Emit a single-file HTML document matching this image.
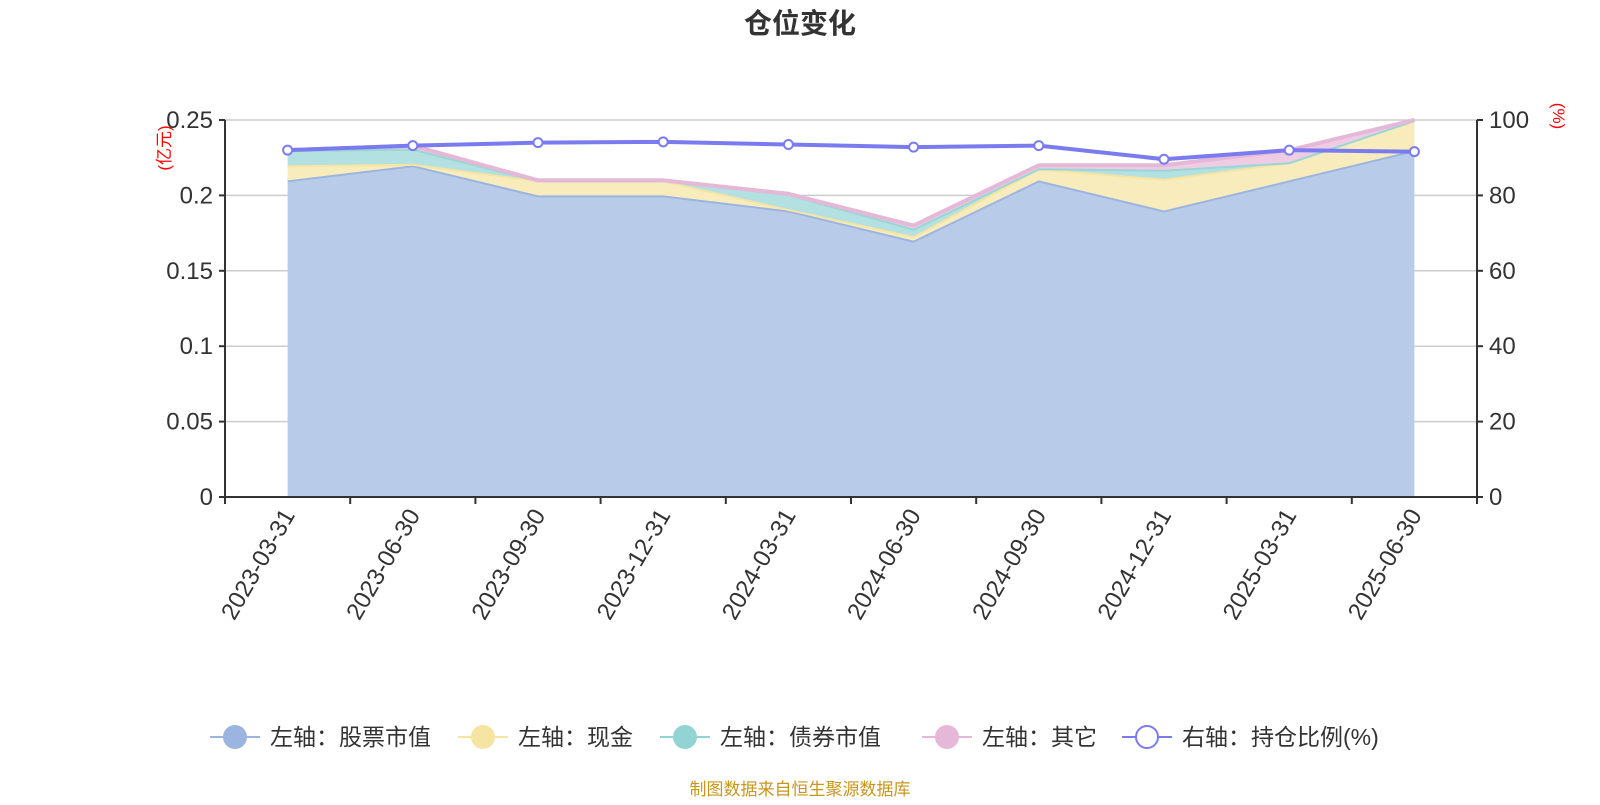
<!DOCTYPE html>
<html><head><meta charset="utf-8">
<style>
body{margin:0;background:#fff;font-family:"Liberation Sans","Noto Sans CJK SC",sans-serif;}
svg text{font-family:"Liberation Sans","Noto Sans CJK SC",sans-serif;}
</style></head>
<body>
<svg id="chart" width="1600" height="800" xmlns="http://www.w3.org/2000/svg">
<text x="800" y="33" text-anchor="middle" font-size="28" font-weight="bold" fill="#333">仓位变化</text>
<g id="grid"></g><g id="areas"></g><g id="axes"></g>
<text transform="translate(170,148) rotate(-90)" text-anchor="middle" font-size="17" fill="red">(亿元)</text>
<text transform="translate(1553,116) rotate(90)" text-anchor="middle" font-size="17" fill="red">(%)</text>
<g id="legend"></g>
<text x="800" y="795" text-anchor="middle" font-size="17" fill="#c8961e">制图数据来自恒生聚源数据库</text>
</svg>
<script>
const categories=["2023-03-31","2023-06-30","2023-09-30","2023-12-31","2024-03-31","2024-06-30","2024-09-30","2024-12-31","2025-03-31","2025-06-30"];
const stockValues=[0.21,0.22,0.20,0.20,0.19,0.17,0.21,0.19,0.21,0.23];
const cashValues=[0.01,0.001,0.01,0.01,0.001,0.003,0.008,0.021,0.012,0.02];
const bondValues=[0.01,0.01,0,0,0.01,0.005,0,0.006,0,0];
const otherValues=[0,0.002,0,0,0,0.002,0.002,0.003,0.008,0];
const ratioValues=[92,93.2,94,94.2,93.5,92.8,93.2,89.6,92,91.6];
const leftTicks=[0,0.05,0.1,0.15,0.2,0.25];
const leftTickLabels=["0","0.05","0.1","0.15","0.2","0.25"];
const rightTicks=[0,20,40,60,80,100];
const NS="http://www.w3.org/2000/svg";
const L=225,R=1477,T=120,B=497;
const bw=(R-L)/categories.length;
const x=i=>L+bw*(i+0.5);
const yL=v=>B-(v/0.25)*(B-T);
const yR=v=>B-(v/100)*(B-T);
function mk(p,tag,a){const e=document.createElementNS(NS,tag);for(const k in a)e.setAttribute(k,a[k]);p.appendChild(e);return e;}
const grid=document.getElementById('grid'),areas=document.getElementById('areas'),axes=document.getElementById('axes'),legend=document.getElementById('legend');
leftTicks.forEach((t,i)=>{
 if(t>0){const g=mk(grid,'line',{x1:L,x2:R,y1:yL(t),y2:yL(t),stroke:'#ccc','stroke-width':1.5});
 
 }
 const tk=mk(axes,'text',{x:L-12,y:yL(t)+8,'text-anchor':'end','font-size':24,fill:'#333'});tk.textContent=leftTickLabels[i];
 
 
 mk(axes,'line',{x1:L-6,x2:L,y1:yL(t),y2:yL(t),stroke:'#333','stroke-width':2});
});
rightTicks.forEach(t=>{
 const tk=mk(axes,'text',{x:R+12,y:yR(t)+8,'font-size':24,fill:'#333'});tk.textContent=t;
 
 
 mk(axes,'line',{x1:R,x2:R+6,y1:yR(t),y2:yR(t),stroke:'#333','stroke-width':2});
});
mk(axes,'line',{x1:L,x2:L,y1:T,y2:B,stroke:'#333','stroke-width':2});
mk(axes,'line',{x1:R,x2:R,y1:T,y2:B,stroke:'#333','stroke-width':2});
mk(axes,'line',{x1:L,x2:R,y1:B,y2:B,stroke:'#333','stroke-width':2});
for(let i=0;i<=categories.length;i++)mk(axes,'line',{x1:L+bw*i,x2:L+bw*i,y1:B,y2:B+7,stroke:'#333','stroke-width':2});
categories.forEach((c,i)=>{
 const t=mk(axes,'text',{transform:`translate(${x(i)+8},${B+18}) rotate(-60)`,'text-anchor':'end','font-size':24,fill:'#333'});t.textContent=c;
 
 
});
const series=[
 {name:'stock',vals:stockValues,fill:'#b8cce9',line:'#9bb5e0'},
 {name:'cash',vals:cashValues,fill:'#f8ecbd',line:'#f6e4a2'},
 {name:'bond',vals:bondValues,fill:'#b3e0e0',line:'#9ad6d6'},
 {name:'other',vals:otherValues,fill:'#eecde4',line:'#e6b8d8'}];
let base=categories.map(()=>0);
series.forEach(s=>{
 const top=base.map((b,i)=>b+s.vals[i]);
 const up=top.map((v,i)=>`${x(i)},${yL(v)}`);
 const dn=base.map((v,i)=>`${x(i)},${yL(v)}`).reverse();
 const a=mk(areas,'polygon',{points:up.concat(dn).join(' '),fill:s.fill});
 
 
 const l=mk(areas,'polyline',{points:up.join(' '),fill:'none',stroke:s.line,'stroke-width':4});
 
 
 base=top;
});
const rl=mk(areas,'polyline',{points:ratioValues.map((v,i)=>`${x(i)},${yR(v)}`).join(' '),fill:'none',stroke:'#7b7bf0','stroke-width':4});


ratioValues.forEach((v,i)=>{
 const c=mk(areas,'circle',{cx:x(i),cy:yR(v),r:4.5,fill:'#fff',stroke:'#7b7bf0','stroke-width':2});
 
 
});
const leg=[["左轴：股票市值","#9bb5e0",true,210],["左轴：现金","#f6e4a2",true,458],["左轴：债券市值","#92d4d4",true,660],["左轴：其它","#e6b8d8",true,922],["右轴：持仓比例(%)","#7b7bf0",false,1122]];
leg.forEach(([t,c,f,lx])=>{
 const g=mk(legend,'g',{});
 
 
 mk(g,'line',{x1:lx,x2:lx+50,y1:737,y2:737,stroke:c,'stroke-width':2});
 mk(g,'circle',{cx:lx+25,cy:737,r:11,fill:f?c:'#fff',stroke:c,'stroke-width':2});
 const tx=mk(g,'text',{x:lx+60,y:745,'font-size':23,fill:'#333'});tx.textContent=t;
});
</script>
</body></html>
